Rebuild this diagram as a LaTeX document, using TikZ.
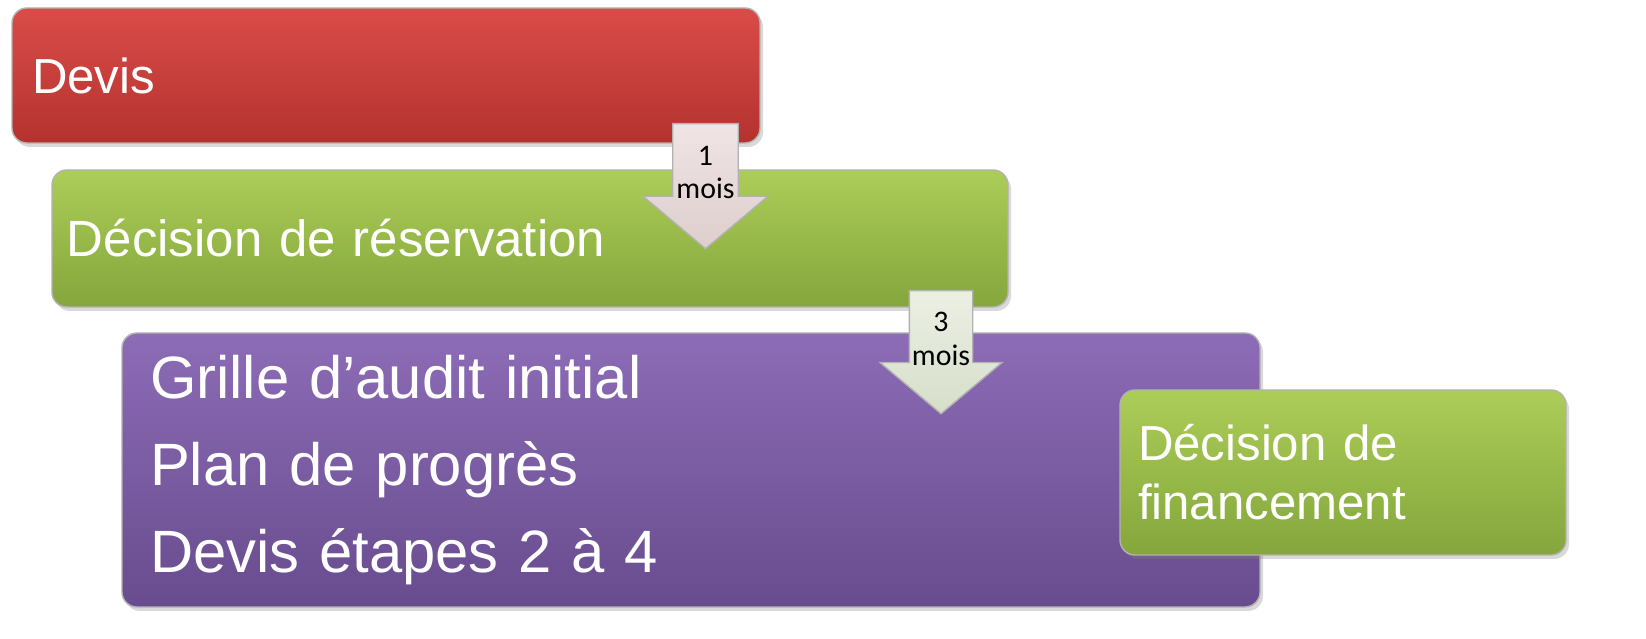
\documentclass[tikz,border=0pt]{standalone}
\usepackage{fontspec}
\setmainfont{Liberation Sans}
\newfontfamily\labelfont{Carlito}
\usetikzlibrary{shapes.arrows, shadows, positioning}
\definecolor{redtop}{RGB}{218,76,72}
\definecolor{redbot}{RGB}{180,50,46}
\definecolor{greentop}{RGB}{172,205,88}
\definecolor{greenbot}{RGB}{132,166,60}
\definecolor{purpletop}{RGB}{140,108,182}
\definecolor{purplebot}{RGB}{104,76,142}
\definecolor{pinktop}{RGB}{240,228,228}
\definecolor{pinkbot}{RGB}{222,206,206}
\definecolor{palegreentop}{RGB}{236,240,228}
\definecolor{palegreenbot}{RGB}{214,222,202}
\tikzstyle{stage} = [rectangle, rounded corners=0.15cm, draw=black!30, text=white, align=left, drop shadow={shadow xshift=0.03cm, shadow yshift=-0.04cm, opacity=0.3}]
\tikzstyle{redstage} = [stage, top color=redtop, bottom color=redbot]
\tikzstyle{greenstage} = [stage, top color=greentop, bottom color=greenbot]
\tikzstyle{purplestage} = [stage, top color=purpletop, bottom color=purplebot]
\tikzstyle{delay} = [single arrow, shape border rotate=270, anchor=tail, draw=gray!60, text=black, inner sep=0pt, single arrow tip angle=100, align=center, font=\labelfont\fontsize{8.5}{9.5}\selectfont]

\begin{document}
\begin{tikzpicture}
    \useasboundingbox (0,0) rectangle (16.46,6.39);
    \node (devis) [redstage, minimum width=7.48cm, minimum height=1.35cm, inner xsep=0.2cm, text width=7.08cm, font=\fontsize{14}{16}\selectfont] at (3.86,5.635) {Devis};
    \node (reservation) [greenstage, minimum width=9.56cm, minimum height=1.37cm, inner xsep=0.15cm, text width=9.26cm, font=\fontsize{14.5}{17}\selectfont] at (5.30,4.005) {Décision de réservation};
    \node (audit) [purplestage, minimum width=11.38cm, minimum height=2.74cm, inner xsep=0.28cm, text width=10.82cm, font=\fontsize{17}{24.7}\selectfont] at (6.91,1.69) {Grille d’audit initial\\Plan de progrès\\Devis étapes 2 à 4};
    \node (financement) [greenstage, minimum width=4.46cm, minimum height=1.65cm, inner xsep=0.18cm, text width=4.10cm, font=\fontsize{14}{16.8}\selectfont] at (13.43,1.665) {Décision de\\financement};
    % delays between stages
    \node (wait1) [delay, top color=pinktop, bottom color=pinkbot, minimum height=1.25cm, minimum width=1.25cm, single arrow head extend=0.27cm] at (7.055,5.16) {1\\mois};
    \node (wait2) [delay, top color=palegreentop, bottom color=palegreenbot, minimum height=1.23cm, minimum width=1.22cm, single arrow head extend=0.275cm] at (9.41,3.49) {3\\mois};
\end{tikzpicture}
\end{document}
